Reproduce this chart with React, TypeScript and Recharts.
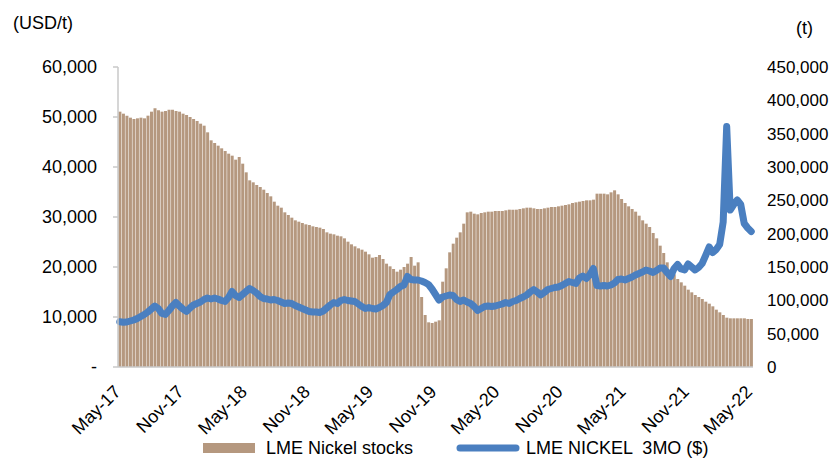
import { ComposedChart, Bar, Line, XAxis, YAxis } from "recharts";

// Half-yearly axis labels; the series below are sampled three times a month (dekads)
const tickLabels = [
  "May-17", "Nov-17", "May-18", "Nov-18", "May-19", "Nov-19",
  "May-20", "Nov-20", "May-21", "Nov-21", "May-22",
];
const DEKADS_PER_LABEL = 18;

// LME nickel warehouse stocks, tonnes
const nickelStocks = [
  383000, 380000, 377000, 374000, 372000, 373000, 374000, 373000, 377000, 383000,
  388000, 385000, 383000, 384000, 386000, 386000, 384000, 383000, 380000, 378000,
  375000, 372000, 369000, 365000, 362000, 352000, 340000, 336000, 332000, 328000,
  324000, 320000, 317000, 311000, 315000, 305000, 292000, 280000, 277000, 273000,
  270000, 266000, 261000, 256000, 248000, 242000, 239000, 232000, 228000, 224000,
  220000, 218000, 216000, 214000, 213000, 211000, 210000, 209000, 207000, 202000,
  200000, 199000, 197000, 196000, 193000, 188000, 184000, 181000, 178000, 176000,
  173000, 169000, 164000, 165000, 168000, 162000, 155000, 151000, 147000, 143000,
  146000, 150000, 155000, 165000, 152000, 157000, 105000, 78000, 67000, 66000,
  68000, 70000, 128000, 148000, 172000, 185000, 194000, 202000, 215000, 232000,
  233000, 230000, 229000, 231000, 232000, 233000, 233000, 234000, 234000, 234000,
  235000, 236000, 236000, 236000, 237000, 238000, 239000, 239000, 238000, 237000,
  237000, 238000, 239000, 240000, 240000, 241000, 242000, 243000, 244000, 246000,
  247000, 248000, 249000, 250000, 250000, 251000, 260000, 260000, 260000, 259000,
  262000, 265000, 259000, 252000, 246000, 241000, 237000, 233000, 227000, 220000,
  215000, 210000, 201000, 193000, 182000, 171000, 157000, 146000, 139000, 132000,
  127000, 122000, 116000, 112000, 108000, 105000, 102000, 98000, 95000, 91000,
  86000, 82000, 78000, 74000, 73000, 73000, 73000, 73000, 73000, 72000,
  72000,
];

// LME nickel 3-month price, USD/t
const nickelPrice = [
  9060, 8950, 9000, 9200, 9400, 9700, 10100, 10500, 11000, 11600,
  12200, 11700, 10700, 10500, 11300, 12200, 12900, 12200, 11600, 11100,
  11800, 12400, 12700, 13000, 13500, 13800, 13600, 13800, 13600, 13300,
  13100, 13900, 15100, 14300, 13900, 14500, 15100, 15700, 15300, 14800,
  14100, 13700, 13600, 13400, 13500, 13300, 13000, 12700, 12800, 12700,
  12300, 12000, 11700, 11400, 11100, 11000, 11000, 10900, 11200, 11800,
  12400, 12900, 12700, 13300, 13500, 13300, 13200, 13100, 12600, 12100,
  11700, 11900, 11700, 11600, 11900, 12300, 12900, 14500, 15000, 15500,
  16100, 16400, 18100, 17500, 17400, 17400, 17200, 16900, 16500, 15600,
  14500, 13400, 14000, 14200, 14400, 14300, 13500, 13100, 13400, 13000,
  12700, 12100, 11300, 11700, 12100, 12200, 12100, 12200, 12400, 12600,
  12900, 12700, 13100, 13300, 13700, 14000, 14400, 15000, 15500, 15000,
  14400, 14900, 15500, 15700, 15900, 16000, 16300, 16700, 17100, 16900,
  16700, 17800, 18200, 17700, 18500, 19700, 16300, 16200, 16300, 16200,
  16400, 16800, 17500, 17600, 17400, 17700, 18000, 18400, 18700, 19000,
  19400, 19200, 18900, 19300, 19800, 19800, 18900, 18100, 19700, 20500,
  19600, 19400, 20600, 20000, 19400, 19900, 20700, 22300, 24000, 22900,
  23500, 24500, 29000, 48100, 31400, 32500, 33400, 32500, 28700, 27800,
  27100,
];

const priceTicks = [0, 10000, 20000, 30000, 40000, 50000, 60000];
const stockTicks = [0, 50000, 100000, 150000, 200000, 250000, 300000, 350000, 400000, 450000];

const chartData = nickelStocks.map((stocks, i) => ({
  i,
  stocks,
  price: nickelPrice[i],
}));

const FONT = "Arial, 'Liberation Sans', sans-serif";
const BAR_COLOR = "#b5987f";
const LINE_COLOR = "#4a7fc0";
const AXIS_GREY = "#c8c8c8";

const fmt = (v: number) => v.toLocaleString("en-US");

function DateTick({ x, y, payload }: any) {
  const label = tickLabels[Math.round(payload.value / DEKADS_PER_LABEL)];
  return (
    <g transform={`translate(${x + 2},${y + 18})`}>
      <text
        textAnchor="end"
        transform="rotate(-45)"
        fontSize={18}
        fontFamily={FONT}
        fill="#000"
      >
        {label}
      </text>
    </g>
  );
}

const textStyle = {
  position: "absolute" as const,
  fontSize: 18,
  lineHeight: "22px",
  color: "#000",
  whiteSpace: "pre" as const,
};

export default function App() {
  // pinned to the window's top-left corner, out of the body's flow
  return (
    <div
      style={{
        position: "absolute",
        left: 0,
        top: 0,
        width: 839,
        height: 459,
        fontFamily: FONT,
        background: "#fff",
      }}
    >
      <div style={{ ...textStyle, left: 13, top: 12 }}>(USD/t)</div>
      <div style={{ ...textStyle, left: 796, top: 17 }}>(t)</div>

      <ComposedChart
        width={839}
        height={459}
        data={chartData}
        margin={{ top: 67, right: 0, left: 18, bottom: 0 }}
        barCategoryGap="12%"
      >
        <XAxis
          dataKey="i"
          type="category"
          interval={DEKADS_PER_LABEL - 1}
          height={92}
          tickLine={false}
          axisLine={{ stroke: AXIS_GREY, strokeWidth: 1.5 }}
          tick={<DateTick />}
        />
        <YAxis
          yAxisId="price"
          orientation="left"
          width={100}
          domain={[0, 60000]}
          ticks={priceTicks}
          interval={0}
          tickSize={5}
          tickMargin={16}
          tickLine={{ stroke: AXIS_GREY, strokeWidth: 1.5 }}
          axisLine={{ stroke: AXIS_GREY, strokeWidth: 1.5 }}
          tick={{ fontSize: 18, fontFamily: FONT, fill: "#000" }}
          tickFormatter={(v: number) => (v === 0 ? "-" : fmt(v))}
        />
        <YAxis
          yAxisId="stocks"
          orientation="right"
          width={86}
          domain={[0, 450000]}
          ticks={stockTicks}
          interval={0}
          tickSize={6}
          tickMargin={8}
          tickLine={false}
          axisLine={false}
          tick={{ fontSize: 17, fontFamily: FONT, fill: "#000", textAnchor: "start" }}
          tickFormatter={fmt}
        />
        <Bar
          yAxisId="stocks"
          dataKey="stocks"
          fill={BAR_COLOR}
          isAnimationActive={false}
        />
        <Line
          yAxisId="price"
          type="linear"
          dataKey="price"
          stroke={LINE_COLOR}
          strokeWidth={7}
          strokeLinejoin="round"
          strokeLinecap="round"
          dot={false}
          activeDot={false}
          isAnimationActive={false}
        />
      </ComposedChart>

      {/* legend */}
      <span
        style={{
          position: "absolute",
          left: 203,
          top: 443,
          width: 52,
          height: 10,
          background: BAR_COLOR,
        }}
      />
      <div style={{ ...textStyle, left: 266, top: 437 }}>LME Nickel stocks</div>
      <svg
        width={70}
        height={20}
        style={{ position: "absolute", left: 453, top: 438 }}
      >
        <line x1={7} x2={63} y1={10} y2={10} stroke={LINE_COLOR} strokeWidth={7} strokeLinecap="round" />
      </svg>
      <div style={{ ...textStyle, left: 526, top: 437 }}>LME NICKEL  3MO ($)</div>
    </div>
  );
}
